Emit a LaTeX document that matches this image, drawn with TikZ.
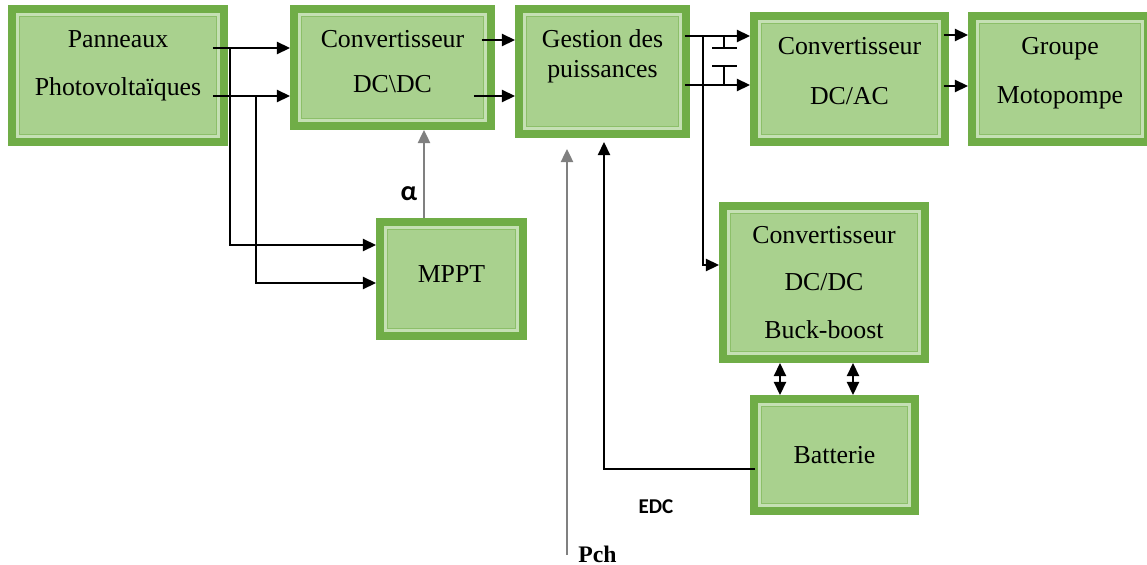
\documentclass[tikz,border=0pt]{standalone}
\usepackage{fontspec}
\setmainfont{Liberation Serif}
\newfontfamily\calibri{Carlito}
\usetikzlibrary{arrows.meta}

\definecolor{bandgreen}{HTML}{70AD47}
\definecolor{fillgreen}{HTML}{A9D18E}
\definecolor{framelight}{HTML}{C5E0B4}
\definecolor{framedark}{HTML}{8CBF69}

% empty last line that pushes the text up
\newcommand\liftup[1]{\\[#1]\mbox{}}

\begin{document}
\begin{tikzpicture}[
    x=0.02cm, y=-0.02cm,
    block/.style={rectangle, draw=bandgreen, line width=0.16cm, fill=fillgreen, align=center, inner sep=0pt, font=\fontsize{14.7}{17}\selectfont},
    arrow/.style={-{Triangle[length=7.5pt, width=7pt]}, line width=0.85pt},
    dblarrow/.style={{Triangle[length=7.5pt, width=7pt]}-{Triangle[length=7.5pt, width=7pt]}, line width=0.85pt},
    wire/.style={line width=0.85pt},
    signal/.style={-{Triangle[length=7.5pt, width=7pt]}, line width=1.1pt, draw=gray},
    framelight/.style={draw=framelight, line width=0.05cm},
    framedark/.style={draw=framedark, line width=0.025cm},
    greeklbl/.style={font=\calibri\bfseries\fontsize{16}{18}\selectfont},
    edclbl/.style={font=\calibri\bfseries\fontsize{12}{14}\selectfont},
    pchlbl/.style={font=\bfseries\fontsize{13.5}{16}\selectfont, inner sep=0pt}
  ]
    \useasboundingbox (0,0) rectangle (1147,565);

    % Blocks
    \node[block, minimum width=4.24cm, minimum height=2.66cm] (pv) at (118,75.5) {Panneaux\\[10pt]Photovoltaïques\liftup{-3pt}};
    \node[block, minimum width=3.94cm, minimum height=2.34cm] (dcdc) at (392.5,67.5) {Convertisseur\\[9pt]DC\textbackslash DC\liftup{-10pt}};
    \node[block, minimum width=3.34cm, minimum height=2.50cm] (gest) at (602.5,71.5) {Gestion des\\puissances\liftup{3.8pt}};
    \node[block, minimum width=3.82cm, minimum height=2.52cm] (dcac) at (849.5,79) {Convertisseur\\[11pt]DC/AC\liftup{-7.8pt}};
    \node[block, minimum width=3.52cm, minimum height=2.52cm] (pump) at (1060,79) {Groupe\\[11pt]Motopompe\liftup{-7pt}};
    \node[block, minimum width=2.86cm, minimum height=2.28cm] (mppt) at (451.5,279) {MPPT\liftup{-11.4pt}};
    \node[block, minimum width=4.04cm, minimum height=3.06cm] (buck) at (824,282.5) {Convertisseur\\[10pt]DC/DC\\[10pt]Buck-boost};
    \node[block, minimum width=3.22cm, minimum height=2.24cm] (bat) at (834.5,455) {Batterie};

    % Inner frames
    \foreach \b in {pv,dcdc,gest,dcac,pump,mppt,buck,bat}{
      \draw[framelight] ([shift={(9.5,-9.5)}]\b.south west) rectangle ([shift={(-9.5,9.5)}]\b.north east);
      \draw[framedark] ([shift={(11.5,-11.5)}]\b.south west) rectangle ([shift={(-11.5,11.5)}]\b.north east);
    }

    % Taps
    \coordinate (pvtap1) at (230,48);
    \coordinate (pvtap2) at (256,96);
    \coordinate (gesttap) at (703,36);
    \coordinate (pch) at (567,555);

    % Panneaux to DC\DC and MPPT
    \draw[arrow] ([xshift=-0.3cm]pv.east |- 0,48) -- (dcdc.west |- 0,48);
    \draw[arrow] ([xshift=-0.3cm]pv.east |- 0,96) -- (dcdc.west |- 0,96);
    \draw[arrow] (pvtap1) |- (mppt.west |- 0,245);
    \draw[arrow] (pvtap2) |- (mppt.west |- 0,283);

    % MPPT to DC\DC
    \draw[signal] (424,0 |- mppt.north) -- node[pos=0.28, left, greeklbl] {α} (424,0 |- dcdc.south);

    % DC\DC to Gestion
    \draw[arrow] ([xshift=-0.26cm]dcdc.east |- 0,40) -- (gest.west |- 0,40);
    \draw[arrow] ([xshift=-0.42cm]dcdc.east |- 0,96) -- (gest.west |- 0,96);

    % Gestion to DC/AC
    \draw[arrow] ([xshift=-0.1cm]gest.east |- 0,36) -- (dcac.west |- 0,36);
    \draw[arrow] ([xshift=-0.1cm]gest.east |- 0,85) -- (dcac.west |- 0,85);
    \draw[wire] (724,36) -- (724,48) (712,48) -- (737,48) (712,66) -- (737,66) (724,66) -- (724,85);
    \draw[arrow] (gesttap) |- (buck.west |- 0,265);

    % DC/AC to Groupe
    \draw[arrow] ([xshift=-0.1cm]dcac.east |- 0,35) -- (pump.west |- 0,35);
    \draw[arrow] ([xshift=-0.1cm]dcac.east |- 0,86) -- (pump.west |- 0,86);

    % Buck-boost and Batterie
    \draw[dblarrow] (780,0 |- buck.south) -- (780,0 |- bat.north);
    \draw[dblarrow] (853,0 |- buck.south) -- (853,0 |- bat.north);

    % Batterie to Gestion
    \draw[arrow, shorten >=0.08cm] ([xshift=0.1cm]bat.west |- 0,469) -| (604,0 |- gest.south);
    \node[edclbl] (edc) at (656,507) {EDC};

    % Pch
    \draw[signal, shorten >=0.22cm] (pch) -- (pch |- gest.south);
    \node[pchlbl, anchor=base west] (pchtext) at (578,562) {Pch};

\end{tikzpicture}
\end{document}
